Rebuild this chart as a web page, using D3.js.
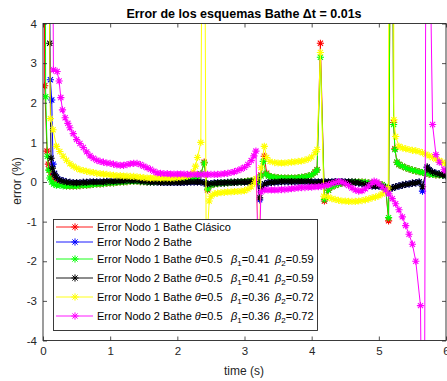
<!DOCTYPE html>
<html><head><meta charset="utf-8">
<script src="https://cdn.jsdelivr.net/npm/d3@7"></script>
<style>body{margin:0;background:#fff}</style>
</head><body><svg id="c" width="447" height="381"></svg>
<script>
const xTicks=[0,1,2,3,4,5,6];
const yTicks=[-4,-3,-2,-1,0,1,2,3,4];
const titleText="Error de los esquemas Bathe \u0394t = 0.01s";
const xLabel="time (s)";
const yLabel="error (%)";

// [time (s), error (%)]
const nodo1Clasico=[[0.01,12],[0.025,2.43],[0.06,0.78],[0.08,0.45],[0.1,0.3],[0.13,0.18],[0.16,0.1],[0.2,0.05],[0.25,0],[0.3,-0.05],[0.35,-0.1],[0.4,-0.1],[0.45,-0.1],[0.5,-0.1],[0.55,-0.09],[0.6,-0.08],[0.65,-0.08],[0.7,-0.07],[0.75,-0.06],[0.8,-0.05],[0.85,-0.05],[0.9,-0.04],[0.95,-0.03],[1,-0.02],[1.05,-0.02],[1.1,-0.01],[1.15,0],[1.2,0],[1.25,0.01],[1.3,0.02],[1.35,0.02],[1.4,0.02],[1.45,0.01],[1.5,0.01],[1.55,0],[1.6,0],[1.65,0],[1.7,0.01],[1.75,0.01],[1.8,0.02],[1.85,0.02],[1.9,0.03],[1.95,0.03],[2,0.04],[2.05,0.04],[2.1,0.05],[2.15,0.05],[2.2,0.06],[2.25,0.08],[2.3,0.12],[2.35,0.2],[2.4,0.5],[2.45,-0.2],[2.5,-0.08],[2.55,-0.05],[2.6,-0.04],[2.65,-0.03],[2.7,-0.02],[2.75,-0.02],[2.8,-0.01],[2.85,-0.01],[2.9,0],[2.95,0],[3,0.01],[3.05,0.02],[3.1,0.03],[3.15,0.04],[3.2,0],[3.245,0.18],[3.295,0.65],[3.33,0.22],[3.36,0.15],[3.4,0.13],[3.45,0.12],[3.5,0.11],[3.55,0.1],[3.6,0.1],[3.65,0.1],[3.7,0.1],[3.75,0.1],[3.8,0.11],[3.85,0.12],[3.9,0.13],[3.95,0.15],[4,0.18],[4.05,0.25],[4.08,0.31],[4.13,3.5],[4.19,-0.48],[4.25,-0.21],[4.3,-0.12],[4.35,-0.08],[4.4,-0.05],[4.45,-0.03],[4.5,-0.02],[4.55,-0.01],[4.6,0],[4.65,0],[4.7,0],[4.75,0],[4.8,-0.01],[4.85,-0.02],[4.9,-0.03],[4.95,-0.04],[5,-0.05],[5.05,-0.07],[5.1,-0.13],[5.145,-0.98],[5.19,12],[5.22,1.5],[5.24,0.84],[5.27,0.5],[5.3,0.44],[5.35,0.4],[5.4,0.36],[5.45,0.33],[5.5,0.3],[5.55,0.28],[5.6,0.26],[5.65,0.24],[5.7,0.22],[5.75,0.2],[5.8,0.19],[5.85,0.18],[5.9,0.18],[5.95,0.17],[6,0.17]];

const nodo2Bathe=[[0.06,12],[0.11,2.58],[0.13,2.07],[0.15,0.45],[0.17,0.22],[0.2,0.12],[0.25,0.06],[0.3,0.03],[0.35,0],[0.4,-0.01],[0.45,-0.02],[0.5,-0.02],[0.55,-0.02],[0.6,-0.01],[0.65,-0.01],[0.7,0],[0.75,0],[0.8,0],[0.85,0],[0.9,0],[0.95,0.01],[1,0.01],[1.05,0.02],[1.1,0.02],[1.15,0.03],[1.2,0.03],[1.25,0.04],[1.3,0.04],[1.35,0.04],[1.4,0.04],[1.45,0.03],[1.5,0.02],[1.55,0.01],[1.6,0],[1.65,0],[1.7,0],[1.75,-0.01],[1.8,-0.01],[1.85,-0.01],[1.9,-0.01],[1.95,-0.01],[2,-0.01],[2.05,-0.01],[2.1,-0.01],[2.15,0],[2.2,0],[2.25,0],[2.3,0],[2.35,0],[2.4,-0.02],[2.45,-0.05],[2.5,-0.04],[2.55,-0.03],[2.6,-0.02],[2.65,-0.02],[2.7,-0.02],[2.75,-0.01],[2.8,-0.01],[2.85,-0.01],[2.9,0],[2.95,0],[3,0],[3.05,0],[3.1,0.01],[3.15,0.02],[3.19,0.05],[3.225,-0.45],[3.26,-0.16],[3.3,-0.05],[3.35,-0.02],[3.4,-0.01],[3.45,0],[3.5,0],[3.55,0.01],[3.6,0.01],[3.65,0.01],[3.7,0.01],[3.75,0.01],[3.8,0.01],[3.85,0.01],[3.9,0.01],[3.95,0.01],[4,0],[4.05,0],[4.1,0],[4.15,0],[4.2,0],[4.25,0],[4.3,0],[4.35,0.01],[4.4,0.01],[4.45,0.01],[4.5,0],[4.55,0],[4.6,0],[4.65,-0.01],[4.7,-0.02],[4.75,-0.04],[4.8,-0.06],[4.85,-0.08],[4.9,-0.1],[4.95,-0.1],[5,-0.1],[5.05,-0.12],[5.1,-0.15],[5.15,-0.17],[5.2,-0.15],[5.25,-0.12],[5.3,-0.1],[5.35,-0.08],[5.4,-0.06],[5.45,-0.05],[5.5,-0.03],[5.55,-0.02],[5.6,0],[5.65,-0.23],[5.72,0.36],[5.75,0.3],[5.8,0.25],[5.85,0.22],[5.9,0.2],[5.95,0.18],[6,0.16]];

const nodo1B41=[[0.02,12],[0.04,2.15],[0.065,0.65],[0.085,0.3],[0.1,0.1],[0.13,0],[0.16,-0.05],[0.2,-0.08],[0.25,-0.08],[0.3,-0.1],[0.35,-0.1],[0.4,-0.1],[0.45,-0.1],[0.5,-0.1],[0.55,-0.09],[0.6,-0.08],[0.65,-0.08],[0.7,-0.07],[0.75,-0.06],[0.8,-0.05],[0.85,-0.05],[0.9,-0.04],[0.95,-0.03],[1,-0.02],[1.05,-0.02],[1.1,-0.01],[1.15,0],[1.2,0],[1.25,0.01],[1.3,0.02],[1.35,0.02],[1.4,0.02],[1.45,0.01],[1.5,0.01],[1.55,0],[1.6,0],[1.65,0],[1.7,0.01],[1.75,0.01],[1.8,0.02],[1.85,0.02],[1.9,0.03],[1.95,0.03],[2,0.04],[2.05,0.04],[2.1,0.05],[2.15,0.05],[2.2,0.06],[2.25,0.08],[2.3,0.12],[2.35,0.2],[2.4,0.48],[2.45,-0.18],[2.5,-0.08],[2.55,-0.05],[2.6,-0.04],[2.65,-0.03],[2.7,-0.02],[2.75,-0.02],[2.8,-0.01],[2.85,-0.01],[2.9,0],[2.95,0],[3,0.01],[3.05,0.02],[3.1,0.03],[3.15,0.04],[3.2,0],[3.245,0.15],[3.28,0.52],[3.32,0.2],[3.36,0.15],[3.4,0.13],[3.45,0.12],[3.5,0.11],[3.55,0.1],[3.6,0.1],[3.65,0.1],[3.7,0.1],[3.75,0.1],[3.8,0.11],[3.85,0.12],[3.9,0.13],[3.95,0.15],[4,0.18],[4.05,0.24],[4.08,0.3],[4.13,3.15],[4.19,-0.44],[4.25,-0.2],[4.3,-0.12],[4.35,-0.08],[4.4,-0.05],[4.45,-0.03],[4.5,-0.02],[4.55,-0.01],[4.6,0],[4.65,0],[4.7,0],[4.75,0],[4.8,-0.01],[4.85,-0.02],[4.9,-0.03],[4.95,-0.04],[5,-0.05],[5.05,-0.07],[5.1,-0.12],[5.145,-0.9],[5.19,12],[5.22,1.45],[5.24,0.82],[5.27,0.5],[5.3,0.44],[5.35,0.4],[5.4,0.36],[5.45,0.33],[5.5,0.3],[5.55,0.28],[5.6,0.26],[5.65,0.24],[5.7,0.22],[5.75,0.2],[5.8,0.19],[5.85,0.18],[5.9,0.18],[5.95,0.17],[6,0.17]];

const nodo2B41=[[0.07,12],[0.1,3.5],[0.12,0.6],[0.14,0.35],[0.17,0.2],[0.2,0.12],[0.25,0.05],[0.3,0.02],[0.35,0],[0.4,-0.01],[0.45,-0.02],[0.5,-0.02],[0.55,-0.02],[0.6,-0.01],[0.65,-0.01],[0.7,0],[0.75,0],[0.8,0],[0.85,0],[0.9,0],[0.95,0.01],[1,0.01],[1.05,0.02],[1.1,0.02],[1.15,0.03],[1.2,0.03],[1.25,0.04],[1.3,0.04],[1.35,0.04],[1.4,0.04],[1.45,0.03],[1.5,0.02],[1.55,0.01],[1.6,0],[1.65,0],[1.7,0],[1.75,-0.01],[1.8,-0.01],[1.85,-0.01],[1.9,-0.01],[1.95,-0.01],[2,-0.01],[2.05,-0.01],[2.1,-0.01],[2.15,0],[2.2,0],[2.25,0],[2.3,0],[2.35,0],[2.4,-0.02],[2.45,-0.05],[2.5,-0.04],[2.55,-0.03],[2.6,-0.02],[2.65,-0.02],[2.7,-0.02],[2.75,-0.01],[2.8,-0.01],[2.85,-0.01],[2.9,0],[2.95,0],[3,0],[3.05,0],[3.1,0.01],[3.15,0.02],[3.19,0.05],[3.225,-0.4],[3.26,-0.15],[3.3,-0.05],[3.35,-0.02],[3.4,-0.01],[3.45,0],[3.5,0],[3.55,0.01],[3.6,0.01],[3.65,0.01],[3.7,0.01],[3.75,0.01],[3.8,0.01],[3.85,0.01],[3.9,0.01],[3.95,0.01],[4,0],[4.05,0],[4.1,0],[4.15,0],[4.2,0],[4.25,0],[4.3,0],[4.35,0.01],[4.4,0.01],[4.45,0.01],[4.5,0],[4.55,0],[4.6,0],[4.65,-0.01],[4.7,-0.02],[4.75,-0.04],[4.8,-0.06],[4.85,-0.08],[4.9,-0.1],[4.95,-0.1],[5,-0.1],[5.05,-0.12],[5.1,-0.15],[5.15,-0.17],[5.2,-0.15],[5.25,-0.12],[5.3,-0.1],[5.35,-0.08],[5.4,-0.06],[5.45,-0.05],[5.5,-0.03],[5.55,-0.02],[5.6,0],[5.65,-0.12],[5.72,0.38],[5.75,0.3],[5.8,0.25],[5.85,0.22],[5.9,0.2],[5.95,0.18],[6,0.16]];

const nodo1B36=[[0.06,12],[0.11,1.6],[0.15,1.32],[0.2,0.9],[0.25,0.77],[0.3,0.65],[0.35,0.55],[0.4,0.46],[0.45,0.4],[0.5,0.35],[0.55,0.31],[0.6,0.29],[0.65,0.27],[0.7,0.25],[0.75,0.24],[0.8,0.22],[0.85,0.21],[0.9,0.2],[0.95,0.19],[1,0.18],[1.05,0.17],[1.1,0.16],[1.15,0.16],[1.2,0.15],[1.25,0.15],[1.3,0.14],[1.35,0.14],[1.4,0.13],[1.45,0.12],[1.5,0.11],[1.55,0.1],[1.6,0.1],[1.65,0.1],[1.7,0.1],[1.75,0.1],[1.8,0.1],[1.85,0.1],[1.9,0.1],[1.95,0.1],[2,0.11],[2.05,0.12],[2.1,0.13],[2.15,0.15],[2.2,0.19],[2.24,0.26],[2.27,0.4],[2.3,0.62],[2.35,1.0],[2.39,14],[2.43,-1.8],[2.475,-0.48],[2.5,-0.36],[2.55,-0.3],[2.6,-0.28],[2.65,-0.27],[2.7,-0.26],[2.75,-0.25],[2.8,-0.25],[2.85,-0.24],[2.9,-0.24],[2.95,-0.23],[3,-0.22],[3.05,-0.18],[3.1,-0.12],[3.15,-0.02],[3.17,0.08],[3.22,-1.8],[3.245,0.36],[3.295,0.9],[3.33,0.62],[3.38,0.52],[3.45,0.49],[3.5,0.48],[3.55,0.48],[3.6,0.48],[3.65,0.49],[3.7,0.5],[3.75,0.51],[3.8,0.52],[3.85,0.53],[3.9,0.55],[3.95,0.58],[4,0.63],[4.05,0.74],[4.08,0.82],[4.13,3.27],[4.18,-0.36],[4.25,-0.38],[4.3,-0.42],[4.35,-0.44],[4.4,-0.46],[4.45,-0.48],[4.5,-0.48],[4.55,-0.49],[4.6,-0.49],[4.65,-0.49],[4.7,-0.48],[4.75,-0.47],[4.8,-0.45],[4.85,-0.43],[4.9,-0.4],[4.95,-0.38],[5,-0.35],[5.05,-0.3],[5.1,-0.22],[5.14,-0.15],[5.165,14],[5.21,14],[5.225,1.57],[5.25,1.15],[5.3,0.9],[5.35,0.86],[5.4,0.84],[5.45,0.82],[5.5,0.8],[5.55,0.79],[5.6,0.77],[5.65,0.74],[5.7,0.7],[5.75,0.66],[5.8,0.62],[5.85,0.58],[5.9,0.54],[5.95,0.5],[6,0.46]];

const nodo2B36=[[0.1,12],[0.13,12],[0.155,2.83],[0.21,2.79],[0.24,2.55],[0.265,2.13],[0.29,1.82],[0.33,1.62],[0.37,1.48],[0.4,1.37],[0.45,1.22],[0.5,1.07],[0.55,0.97],[0.6,0.87],[0.65,0.76],[0.7,0.66],[0.75,0.6],[0.8,0.55],[0.85,0.52],[0.9,0.5],[0.95,0.48],[1,0.47],[1.05,0.45],[1.1,0.43],[1.15,0.42],[1.2,0.42],[1.25,0.44],[1.3,0.46],[1.35,0.47],[1.4,0.47],[1.45,0.44],[1.5,0.4],[1.55,0.36],[1.6,0.32],[1.65,0.27],[1.7,0.23],[1.75,0.22],[1.8,0.21],[1.85,0.21],[1.9,0.2],[1.95,0.2],[2,0.2],[2.05,0.2],[2.1,0.2],[2.15,0.19],[2.2,0.19],[2.25,0.19],[2.3,0.19],[2.35,0.19],[2.4,0.19],[2.45,0.19],[2.5,0.19],[2.55,0.19],[2.6,0.19],[2.65,0.2],[2.7,0.21],[2.75,0.22],[2.8,0.24],[2.85,0.26],[2.9,0.29],[2.95,0.33],[3,0.37],[3.05,0.44],[3.1,0.54],[3.14,0.66],[3.17,0.78],[3.21,-2.5],[3.245,-0.25],[3.3,-0.2],[3.35,-0.2],[3.4,-0.2],[3.45,-0.2],[3.5,-0.2],[3.55,-0.19],[3.6,-0.19],[3.65,-0.18],[3.7,-0.17],[3.75,-0.16],[3.8,-0.15],[3.85,-0.14],[3.9,-0.14],[3.95,-0.13],[4,-0.13],[4.05,-0.12],[4.1,-0.12],[4.15,-0.11],[4.2,-0.09],[4.25,-0.07],[4.3,-0.04],[4.35,-0.01],[4.4,0.01],[4.45,0],[4.5,-0.04],[4.55,-0.09],[4.6,-0.15],[4.65,-0.2],[4.7,-0.23],[4.75,-0.22],[4.8,-0.17],[4.85,-0.1],[4.9,-0.02],[4.93,0.02],[4.97,0],[5,-0.05],[5.05,-0.12],[5.1,-0.2],[5.15,-0.3],[5.2,-0.42],[5.25,-0.55],[5.3,-0.7],[5.35,-0.88],[5.4,-1.1],[5.45,-1.32],[5.5,-1.57],[5.55,-2.0],[5.62,-3.12],[5.67,-12],[5.71,12],[5.8,1.45],[5.85,0.69],[5.9,0.5],[5.97,0.31],[6,0.28]];

const seriesData=[nodo1Clasico,nodo2Bathe,nodo1B41,nodo2B41,nodo1B36,nodo2B36];
const seriesColors=["#ff0000","#0000ff","#00ff00","#000000","#ffff00","#ff00ff"];
const legendNodes=["1","2","1","2","1","2"];
const legendTheta=[null,null,"0.5","0.5","0.5","0.5"];
const legendB1=[null,null,"0.41","0.41","0.36","0.36"];
const legendB2=[null,null,"0.59","0.59","0.72","0.72"];

const FONT="'Liberation Sans', Arial, Helvetica, sans-serif";
const AX="#262626";
const L=43,R=446,T=23.5,B=340.5;
const x=d3.scaleLinear().domain([0,6]).range([L,R]);
const y=d3.scaleLinear().domain([-4,4]).range([B,T]);
const svg=d3.select("#c");
svg.append("rect").attr("width",447).attr("height",381).attr("fill","#fff");
svg.append("defs").append("clipPath").attr("id","clip").append("rect")
  .attr("x",L).attr("y",T).attr("width",R-L).attr("height",B-T);

const star="M0,-3.6V3.6M-3.6,0H3.6M-2.6,-2.6L2.6,2.6M-2.6,2.6L2.6,-2.6";
const line=d3.line().x(d=>x(d[0])).y(d=>y(d[1]));
const plot=svg.append("g").attr("clip-path","url(#clip)");
seriesData.forEach((data,i)=>{
  const gg=plot.append("g");
  gg.append("path").attr("d",line(data)).attr("fill","none").attr("stroke",seriesColors[i]).attr("stroke-width",1);
  gg.selectAll("path.m").data(data).join("path").attr("class","m")
    .attr("transform",d=>`translate(${x(d[0])},${y(d[1])})`)
    .attr("d",star).attr("fill","none").attr("stroke",seriesColors[i]).attr("stroke-width",1.1);
});

// axes
function styleAxis(g){
  g.select(".domain").remove();
  g.selectAll("line").attr("stroke",AX).attr("stroke-width",0.8);
  g.selectAll("text").attr("fill",AX).attr("font-family",FONT).attr("font-size","11.5px");
}
svg.append("g").attr("transform",`translate(0,${B})`)
  .call(d3.axisBottom(x).tickValues(xTicks).tickSize(-4).tickPadding(6).tickFormat(d3.format("d"))).call(styleAxis);
svg.append("g").attr("transform",`translate(0,${T})`)
  .call(d3.axisTop(x).tickValues(xTicks).tickSize(-4).tickFormat("")).call(styleAxis);
svg.append("g").attr("transform",`translate(${L},0)`)
  .call(d3.axisLeft(y).tickValues(yTicks).tickSize(-4).tickPadding(6).tickFormat(d3.format("d"))).call(styleAxis);
svg.append("g").attr("transform",`translate(${R},0)`)
  .call(d3.axisRight(y).tickValues(yTicks).tickSize(-4).tickFormat("")).call(styleAxis);
svg.selectAll("text").filter(function(){return this.textContent.startsWith("\u2212");}).text(function(){return "-"+this.textContent.slice(1);});
svg.append("rect").attr("x",L).attr("y",T).attr("width",R-L).attr("height",B-T)
  .attr("fill","none").attr("stroke",AX).attr("stroke-width",0.9);

svg.append("text").attr("x",244).attr("y",17.5).attr("text-anchor","middle")
  .attr("font-family",FONT).attr("font-weight","bold").attr("font-size","12.5px").attr("fill","#000").text(titleText);
svg.append("text").attr("x",244).attr("y",375).attr("text-anchor","middle")
  .attr("font-family",FONT).attr("font-size","12px").attr("fill",AX).text(xLabel);
svg.append("text").attr("transform","translate(21,181) rotate(-90)").attr("text-anchor","middle")
  .attr("font-family",FONT).attr("font-size","12px").attr("fill",AX).text(yLabel);

// legend
const lg=svg.append("g");
lg.append("rect").attr("x",53.5).attr("y",219.5).attr("width",264).attr("height",111)
  .attr("fill","#fff").attr("stroke",AX).attr("stroke-width",0.9);
const rowY=[227,242,259,278,297,316];
seriesColors.forEach((c,i)=>{
  const yy=rowY[i];
  lg.append("line").attr("x1",56).attr("x2",93).attr("y1",yy).attr("y2",yy).attr("stroke",c).attr("stroke-width",0.9);
  lg.append("path").attr("transform",`translate(75,${yy})`).attr("d",star).attr("fill","none").attr("stroke",c);
  const t=lg.append("text").attr("x",97).attr("y",yy+4).attr("font-family",FONT).attr("font-size","11px").attr("fill","#000");
  if(i===0){t.text("Error Nodo 1 Bathe Cl\u00e1sico");}
  else if(i===1){t.text("Error Nodo 2 Bathe");}
  else{
    t.append("tspan").text(`Error Nodo ${legendNodes[i]} Bathe `);
    t.append("tspan").attr("font-style","italic").text("\u03b8");
    t.append("tspan").text("="+legendTheta[i]);
    t.append("tspan").attr("x",231).attr("font-style","italic").text("\u03b2");
    t.append("tspan").attr("font-size","8px").attr("dy",3).text("1");
    t.append("tspan").attr("dy",-3).text("="+legendB1[i]);
    t.append("tspan").attr("x",275).attr("font-style","italic").text("\u03b2");
    t.append("tspan").attr("font-size","8px").attr("dy",3).text("2");
    t.append("tspan").attr("dy",-3).text("="+legendB2[i]);
  }
});
</script></body></html>
